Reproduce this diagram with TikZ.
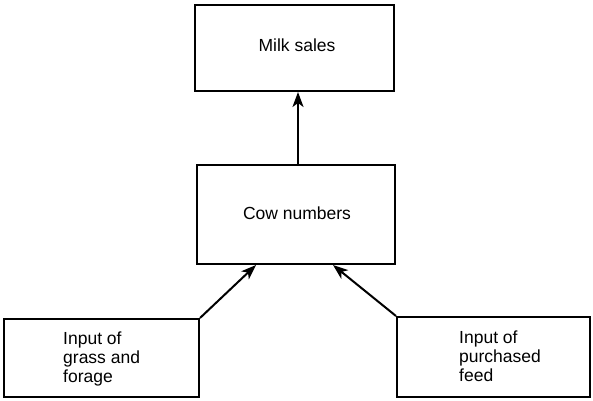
\documentclass[tikz,border=0pt]{standalone}
\usepackage{fontspec}
\setmainfont{Liberation Sans}
\usetikzlibrary{arrows.meta,calc}
\begin{document}
\begin{tikzpicture}[x=1pt,y=-1pt,
  box/.style={draw, line width=2pt, inner sep=0pt},
  flow/.style={line width=2pt, -{Stealth[length=15pt,width=11pt,inset=4pt]}},
  lbl/.style={font=\fontsize{17.5}{19}\selectfont, inner sep=0pt}]
\useasboundingbox (0,0) rectangle (593,400);
% boxes
\node[box, minimum width=199pt, minimum height=86pt] (milk) at (294.5,48) {};
\node[box, minimum width=198pt, minimum height=99pt] (cow) at (296,214.5) {};
\node[box, minimum width=195pt, minimum height=78pt] (grass) at (101.5,358) {};
\node[box, minimum width=193pt, minimum height=80pt] (feed) at (493.5,357) {};
% labels
\node[lbl] (milkt) at (297,45) {Milk sales};
\node[lbl] (cowt) at (297,213) {Cow numbers};
\node[lbl, anchor=west, align=left] (grasst) at (63,359) {Input of\\grass and\\forage};
\node[lbl, anchor=west, align=left] (feedt) at (459,356) {Input of\\purchased\\feed};
% connectors
\draw[flow] (cow.north -| 298,0) -- (milk.south -| 298,0);
\draw[flow] (grass.north east) -- ($(cow.south west)+(60,0)$);
\draw[flow] (feed.north west) -- ($(cow.south east)+(-63,0)$);
\end{tikzpicture}
\end{document}
